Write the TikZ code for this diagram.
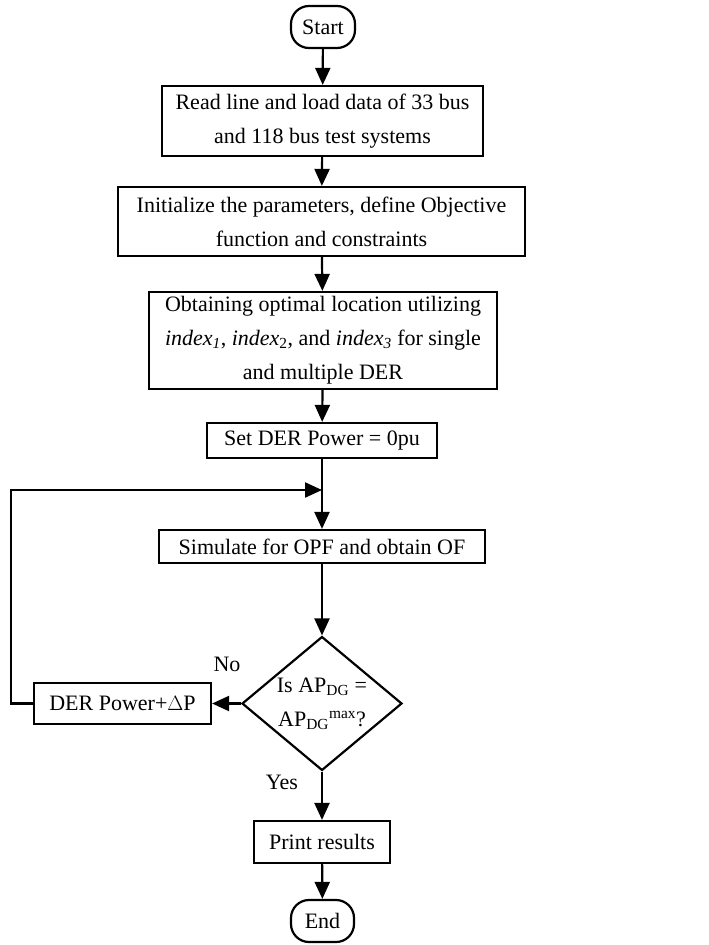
\documentclass[tikz,border=0pt]{standalone}
\usepackage{fontspec}
\setmainfont{Liberation Serif}
\usetikzlibrary{arrows.meta,shapes.geometric}
\begin{document}
\begin{tikzpicture}[x=1pt,y=-1pt,
  every node/.style={font=\fontsize{22}{34}\selectfont},
  procbox/.style={draw,line width=2.2pt,align=center,inner sep=0pt},
  termbox/.style={draw,line width=2.2pt,rounded corners=18pt,inner sep=0pt},
  decbox/.style={draw,line width=2.2pt,diamond,align=center,inner sep=-2pt,minimum width=160pt,minimum height=123pt},
  flow/.style={line width=2.2pt,-{Triangle[length=17pt,width=15pt]}},
  lbl/.style={inner sep=0pt}]
\useasboundingbox (0,0) rectangle (709,945);
\node[termbox,minimum width=64pt,minimum height=42pt] (start) at (323,27) {Start};
\node[procbox,minimum width=321pt,minimum height=70pt] (b1) at (322.5,121) {Read line and load data of 33 bus\\and 118 bus test systems};
\node[procbox,minimum width=407pt,minimum height=69pt] (b2) at (321.5,221.5) {Initialize the parameters, define Objective\\function and constraints};
\node[procbox,minimum width=348pt,minimum height=97pt] (b3) at (323,340.5) {Obtaining optimal location utilizing\\\textit{index\textsubscript{1}}, \textit{index}\textsubscript{2}, and \textit{index\textsubscript{3}} for single\\and multiple DER};
\node[procbox,minimum width=230pt,minimum height=35pt] (b4) at (322,440.5) {Set DER Power = 0pu};
\node[procbox,minimum width=326pt,minimum height=33pt] (b5) at (322,546.5) {Simulate for OPF and obtain OF};
\node[decbox] (dec) at (322,703.5) {Is AP\textsubscript{DG} =\\AP\textsubscript{DG}\textsuperscript{max}?};
\node[procbox,minimum width=177pt,minimum height=41pt] (inc) at (122.5,703.5) {DER Power+$\Delta$P};
\node[procbox,minimum width=136pt,minimum height=42pt] (print) at (322,842) {Print results};
\node[termbox,minimum width=63pt,minimum height=42pt] (end) at (322.5,921) {End};
\node[lbl] (no) at (227,664) {No};
\node[lbl] (yes) at (282,782) {Yes};
\coordinate (join) at (322,490);
\coordinate (corner1) at (11,703.5);
\coordinate (corner2) at (11,490);
\draw[flow] (start) -- (b1);
\draw[flow] (b1) -- (b2);
\draw[flow] (b2) -- (b3);
\draw[flow] (b3) -- (b4);
\draw[flow] (b4) -- (b5);
\draw[flow] (b5) -- (dec);
\draw[flow] (dec) -- (inc);
\draw[flow] (inc.west) -- (corner1) -- (corner2) -- (join);
\draw[flow] (dec) -- (print);
\draw[flow] (print) -- (end);
\end{tikzpicture}
\end{document}
